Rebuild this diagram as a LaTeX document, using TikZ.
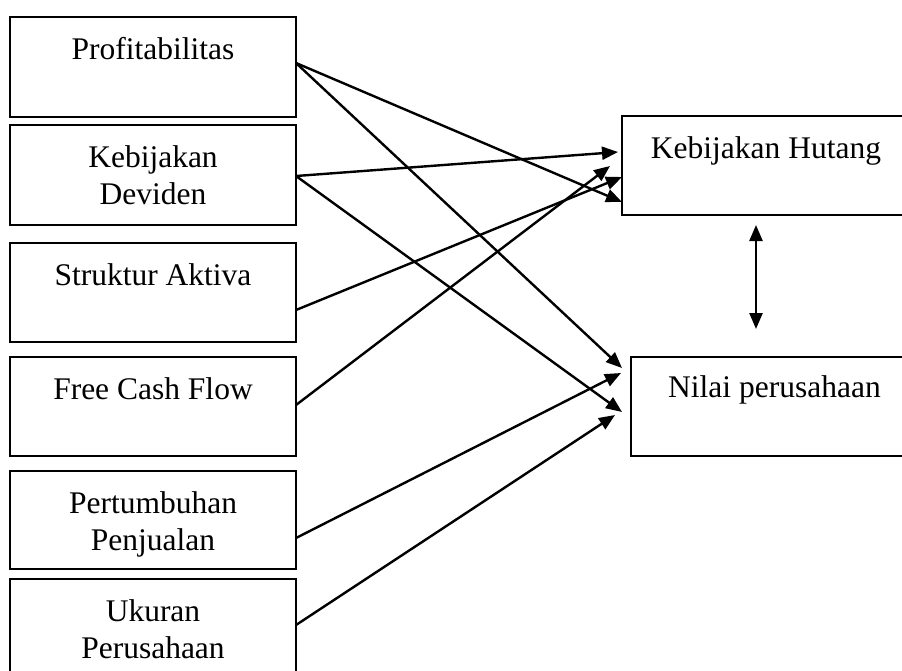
\documentclass[tikz,border=0pt]{standalone}
\usepackage{fontspec}
\setmainfont{Liberation Serif}
\usetikzlibrary{arrows.meta}
\begin{document}
\begin{tikzpicture}[x=1pt,y=-1pt,
  box/.style={draw,line width=2.2pt,anchor=north west,inner sep=0pt,outer sep=0pt},
  lbox/.style={box,minimum width=286pt,minimum height=100pt},
  txt/.style={font=\fontsize{31.5}{37}\selectfont,align=center,anchor=base,inner sep=0pt},
  link/.style={line width=2.4pt,-{Triangle[length=16pt,width=13pt]}},
  dlink/.style={line width=2.4pt,{Triangle[length=16pt,width=13pt]}-{Triangle[length=16pt,width=13pt]}}]
\useasboundingbox (0,0) rectangle (902,670);
\clip (0,0) rectangle (902,670);
% left boxes
\node[lbox] (p) at (10,17) {};
\node[lbox] (kd) at (10,125) {};
\node[lbox,minimum height=99pt] (sa) at (10,243) {};
\node[lbox,minimum height=99pt] (fc) at (10,357) {};
\node[lbox,minimum height=98pt] (pp) at (10,471) {};
\node[lbox] (up) at (10,579) {};
% right boxes
\node[box,minimum width=290pt,minimum height=99pt] (kh) at (622,116) {};
\node[box,minimum width=290pt,minimum height=99pt] (np) at (631,357) {};
% texts (base = last line)
\node[txt] (tp) at ([yshift=-42pt]p.north) {Profitabilitas};
\node[txt] (tkd) at ([yshift=-79pt]kd.north) {Kebijakan\\Deviden};
\node[txt] (tsa) at ([yshift=-42pt]sa.north) {Struktur Aktiva};
\node[txt] (tfc) at ([yshift=-42pt]fc.north) {Free Cash Flow};
\node[txt] (tpp) at ([yshift=-79pt]pp.north) {Pertumbuhan\\Penjualan};
\node[txt] (tup) at ([yshift=-79pt]up.north) {Ukuran\\Perusahaan};
\node[txt] (tkh) at (766,158) {Kebijakan Hutang};
\node[txt] (tnp) at (774.5,397) {Nilai perusahaan};
% start points
\coordinate (sp) at ([yshift=-46pt]p.north east);
\coordinate (skd) at ([yshift=-51pt]kd.north east);
\coordinate (ssa) at ([yshift=-67pt]sa.north east);
\coordinate (sfc) at ([yshift=-48pt]fc.north east);
\coordinate (spp) at ([yshift=-67pt]pp.north east);
\coordinate (sup) at ([yshift=-46pt]up.north east);
% end points
\coordinate (kh1) at (618,152);
\coordinate (kh2) at (610,166);
\coordinate (kh3) at (622,177);
\coordinate (kh4) at (622,202);
\coordinate (np1) at (622,368);
\coordinate (np2) at (621,373);
\coordinate (np3) at (622,412);
\coordinate (np4) at (615,415);
\coordinate (da1) at (756,225);
\coordinate (da2) at (756,329);
% connectors
\draw[link] (sp) -- (kh4);
\draw[link] (sp) -- (np1);
\draw[link] (skd) -- (kh1);
\draw[link] (skd) -- (np3);
\draw[link] (ssa) -- (kh3);
\draw[link] (sfc) -- (kh2);
\draw[link] (spp) -- (np2);
\draw[link] (sup) -- (np4);
\draw[dlink] (da1) -- (da2);
\end{tikzpicture}
\end{document}
